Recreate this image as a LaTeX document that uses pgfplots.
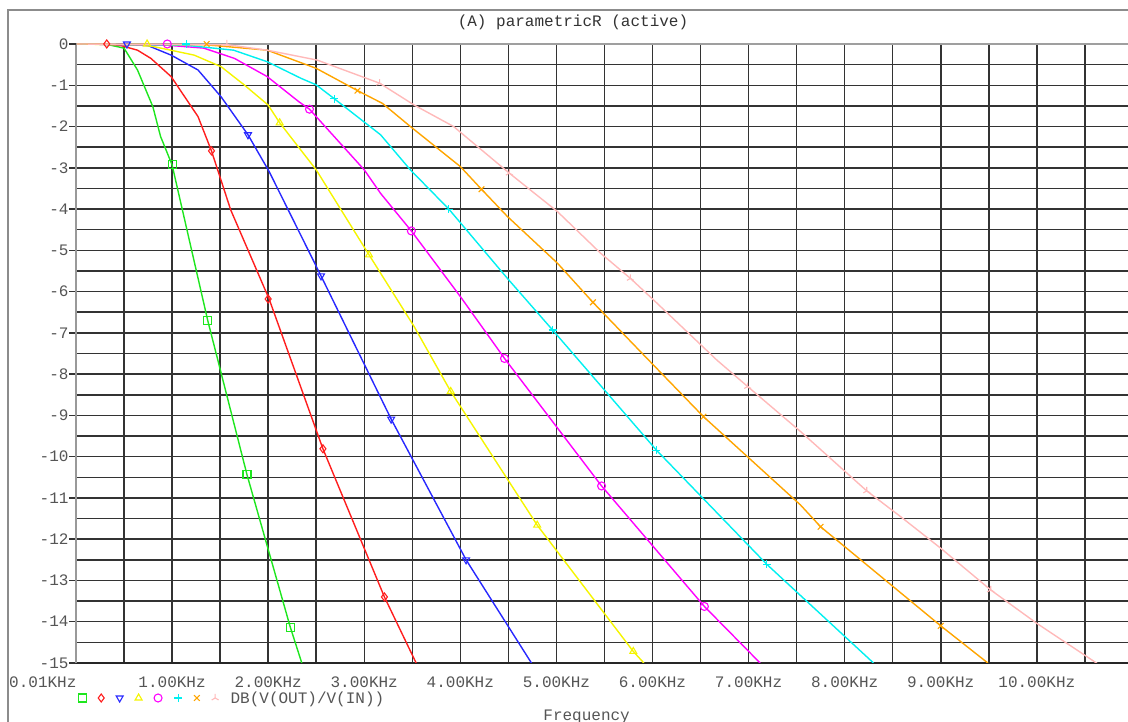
\documentclass[border=0pt]{standalone}
\usepackage{fontspec}
\setmainfont{Liberation Mono}
\usepackage{pgfplots}
\pgfplotsset{compat=1.18}
\usetikzlibrary{plotmarks}
\definecolor{pgreen}{RGB}{30,230,30}
\definecolor{pred}{RGB}{255,30,30}
\definecolor{pblue}{RGB}{40,40,255}
\definecolor{pyellow}{RGB}{245,245,0}
\definecolor{pmagenta}{RGB}{255,0,255}
\definecolor{pcyan}{RGB}{0,240,240}
\definecolor{porange}{RGB}{255,165,0}
\definecolor{ppink}{RGB}{255,185,185}
\definecolor{labgray}{RGB}{85,85,85}
\begin{document}
\begin{tikzpicture}
\draw[gray!90, line width=1.5pt] (8pt,-20pt) -- (8pt,712pt) -- (1150pt,712pt);
\node[text=black!80, font=\fontsize{16}{18}\selectfont] at (573pt,700pt) {(A) parametricR (active)};
\begin{axis}[
  at={(76pt,59pt)}, anchor=south west,
  scale only axis, width=1055pt, height=619pt,
  xmin=0, xmax=10.98, ymin=-15, ymax=0,
  axis lines*=left,
  x axis line style={black!85, line width=1.5pt},
  y axis line style={gray!80, line width=1.5pt},
  xtick={1,...,10},
  xticklabels={1.00KHz,2.00KHz,3.00KHz,4.00KHz,5.00KHz,6.00KHz,7.00KHz,8.00KHz,9.00KHz,10.00KHz},
  extra x ticks={0.01}, extra x tick labels={0.01KHz},
  extra x tick style={grid=none, tick label style={anchor=north east, xshift=3pt}},
  minor xtick={0.5,1.5,...,10.5},
  ytick={-15,...,-1},
  yticklabels={-15,-14,-13,-12,-11,-10,-9,-8,-7,-6,-5,-4,-3,-2,-1},
  extra y ticks={0}, extra y tick labels={0},
  extra y tick style={grid=major, major grid style={gray!75, line width=1.5pt}},
  minor ytick={-14.5,-13.5,...,-0.5},
  grid=both,
  major grid style={black!80, line width=1.5pt},
  minor grid style={black!80, line width=1.5pt},
  tick align=outside, major tick length=7pt, minor tick length=0pt,
  xtick style={draw=none},
  ytick style={black!80, line width=1.5pt},
  tick label style={text=labgray, font=\fontsize{16}{18}\selectfont},
  xticklabel style={yshift=-3pt},
  yticklabel style={xshift=3pt},
  xlabel={Frequency},
  xlabel style={at={(axis description cs:0.484,0)}, anchor=center, yshift=-54pt, text=labgray, font=\fontsize{16}{18}\selectfont},
  legend columns=-1,
  legend style={draw=none, fill=none, inner sep=0pt, at={(axis description cs:0,0)}, anchor=west, xshift=2pt, yshift=-35pt,
    nodes={inner sep=0pt, text=labgray, font=\fontsize{16}{18}\selectfont},
    /tikz/every odd column/.append style={column sep=0pt},
    /tikz/every even column/.append style={column sep=11pt}},
  legend image code/.code={\draw[#1] plot coordinates {(0pt,0pt)};},
  every axis plot/.append style={mark size=4pt},
]
% curves
\addplot[pgreen, line width=1.4pt, forget plot] coordinates {(0.01,0) (0.32,-0.01) (0.50,-0.10) (0.64,-0.63) (0.80,-1.52) (0.88,-2.24) (1.00,-2.93) (1.37,-6.69) (1.78,-10.44) (2.23,-14.13) (2.35,-15)};
\addplot[pred, line width=1.4pt, forget plot] coordinates {(0.01,0) (0.32,0) (0.47,-0.04) (0.64,-0.15) (0.78,-0.35) (0.99,-0.79) (1.27,-1.76) (1.41,-2.59) (1.61,-4.02) (2.01,-6.18) (2.57,-9.81) (3.21,-13.40) (3.54,-15)};
\addplot[pblue, line width=1.4pt, forget plot] coordinates {(0.01,0) (0.53,-0.01) (0.75,-0.04) (0.99,-0.27) (1.27,-0.63) (1.51,-1.28) (1.79,-2.20) (2.01,-3.09) (2.55,-5.62) (3.28,-9.09) (4.06,-12.50) (4.74,-15)};
\addplot[pyellow, line width=1.4pt, forget plot] coordinates {(0.01,0) (0.74,-0.03) (1.23,-0.27) (1.51,-0.55) (1.75,-0.99) (2.00,-1.48) (2.12,-1.91) (2.50,-3.05) (3.05,-5.11) (3.52,-6.85) (3.90,-8.42) (4.80,-11.66) (5.80,-14.72) (5.91,-15)};
\addplot[pmagenta, line width=1.4pt, forget plot] coordinates {(0.01,0) (0.95,-0.03) (1.33,-0.10) (1.65,-0.35) (1.99,-0.79) (2.32,-1.40) (2.43,-1.58) (3.00,-3.05) (3.17,-3.62) (3.49,-4.53) (4.00,-6.12) (4.46,-7.62) (5.47,-10.71) (6.54,-13.63) (7.12,-15)};
\addplot[pcyan, line width=1.4pt, forget plot] coordinates {(0.01,0) (1.14,-0.03) (1.64,-0.15) (1.99,-0.43) (2.34,-0.83) (2.50,-0.99) (2.69,-1.33) (3.17,-2.20) (3.48,-3.05) (3.88,-4.00) (4.49,-5.68) (4.96,-6.93) (6.04,-9.84) (7.19,-12.61) (8.30,-15)};
\addplot[porange, line width=1.4pt, forget plot] coordinates {(0.01,0) (1.36,-0.02) (1.99,-0.15) (2.50,-0.59) (2.93,-1.13) (3.19,-1.44) (3.48,-2.00) (4.00,-2.97) (4.22,-3.52) (4.49,-4.18) (5.01,-5.31) (5.38,-6.26) (5.91,-7.54) (6.53,-9.03) (7.54,-11.17) (7.75,-11.70) (9.00,-14.10) (9.49,-15)};
\addplot[ppink, line width=1.4pt, forget plot] coordinates {(0.01,0) (1.58,-0.02) (1.99,-0.15) (2.51,-0.39) (3.16,-0.95) (3.52,-1.48) (3.93,-2.00) (4.14,-2.41) (4.51,-3.13) (5.01,-4.06) (5.46,-5.07) (5.77,-5.68) (6.01,-6.20) (6.67,-7.66) (6.99,-8.30) (7.54,-9.39) (8.23,-10.83) (8.58,-11.45) (9.00,-12.22) (9.52,-13.23) (10.00,-14.04) (10.64,-15.03)};
% markers
\addplot[pgreen, only marks, mark=square, mark options={line width=1.1pt}] coordinates {(1.00,-2.93) (1.37,-6.69) (1.78,-10.44) (2.23,-14.13)};
\addlegendentry{}
\addplot[pred, only marks, mark=diamond, mark options={line width=1.1pt}] coordinates {(0.32,0) (1.41,-2.59) (2.00,-6.18) (2.57,-9.81) (3.21,-13.40)};
\addlegendentry{}
\addplot[pblue, only marks, mark=triangle, mark options={line width=1.1pt, rotate=180}] coordinates {(0.53,0) (1.79,-2.20) (2.55,-5.62) (3.28,-9.09) (4.06,-12.50)};
\addlegendentry{}
\addplot[pyellow, only marks, mark=triangle, mark options={line width=1.1pt}] coordinates {(0.74,0) (2.12,-1.91) (3.05,-5.11) (3.90,-8.42) (4.80,-11.66) (5.80,-14.72)};
\addlegendentry{}
\addplot[pmagenta, only marks, mark=o, mark options={line width=1.1pt}] coordinates {(0.95,0) (2.43,-1.58) (3.49,-4.53) (4.46,-7.62) (5.47,-10.71) (6.54,-13.63)};
\addlegendentry{}
\addplot[pcyan, only marks, mark=+, mark options={line width=1.1pt}] coordinates {(1.15,0) (2.69,-1.33) (3.88,-4.00) (4.96,-6.93) (6.04,-9.84) (7.19,-12.61)};
\addlegendentry{}
\addplot[porange, only marks, mark=x, mark options={line width=1.1pt}] coordinates {(1.36,0) (2.93,-1.13) (4.22,-3.52) (5.38,-6.26) (6.53,-9.03) (7.75,-11.70) (9.00,-14.10)};
\addlegendentry{}
\addplot[ppink, only marks, mark=Mercedes star, mark options={line width=1.1pt}] coordinates {(1.57,0) (3.16,-0.95) (4.51,-3.13) (5.77,-5.68) (6.99,-8.30) (8.23,-10.83) (9.52,-13.23)};
\addlegendentry{\hspace{12pt}DB(V(OUT)/V(IN))}
\end{axis}
\pgfresetboundingbox
\useasboundingbox (0pt,0pt) rectangle (1128pt,722pt);
\end{tikzpicture}
\end{document}
